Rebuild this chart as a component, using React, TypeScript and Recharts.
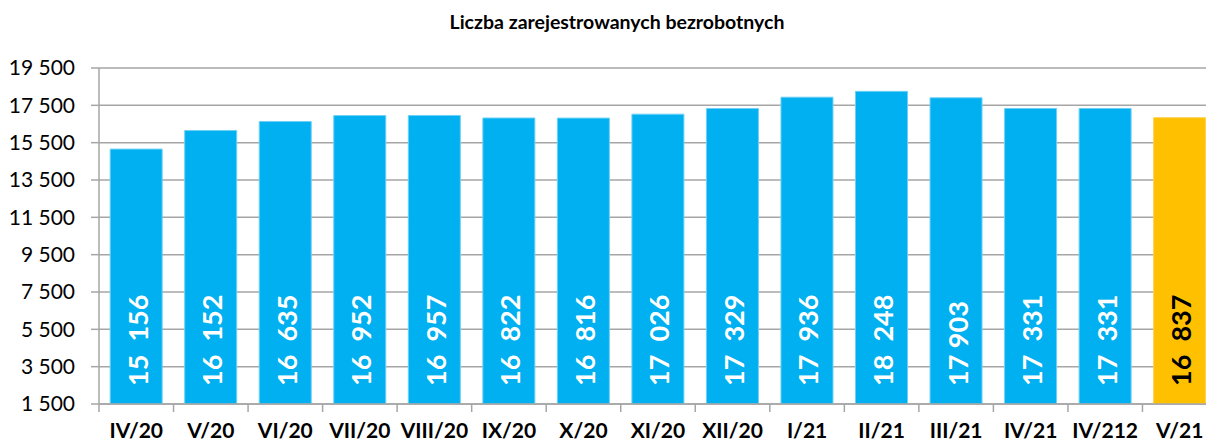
import React from 'react';
import { BarChart, Bar, XAxis, YAxis, CartesianGrid, Cell, LabelList } from 'recharts';

const months = ['IV/20', 'V/20', 'VI/20', 'VII/20', 'VIII/20', 'IX/20', 'X/20', 'XI/20', 'XII/20', 'I/21', 'II/21', 'III/21', 'IV/21', 'IV/212', 'V/21'];
const unemployed = [15156, 16152, 16635, 16952, 16957, 16822, 16816, 17026, 17329, 17936, 18248, 17903, 17331, 17331, 16837];
const valueLabels = ['15  156', '16  152', '16  635', '16  952', '16  957', '16  822', '16  816', '17  026', '17  329', '17  936', '18  248', '17 903', '17  331', '17  331', '16  837'];
const yTicks = [1500, 3500, 5500, 7500, 9500, 11500, 13500, 15500, 17500, 19500];

const data = months.map((m, i) => ({ month: m, value: unemployed[i], label: valueLabels[i] }));

const FONT = 'Lato, "Open Sans", sans-serif';
const CHART_W = 1218;
const PLOT_LEFT = 99;
const PLOT_RIGHT = 1217;
const BAND = (PLOT_RIGHT - PLOT_LEFT) / months.length;
const GRID = '#a6a6a6';

const formatThousands = (v: number) => {
  const s = String(v);
  return s.length > 3 ? `${s.slice(0, -3)} ${s.slice(-3)}` : s;
};

const MonthTick = (props: any) => {
  const { x, y, payload, index } = props;
  return (
    <g>
      <line x1={x - BAND / 2} x2={x - BAND / 2} y1={y - 8} y2={y} stroke={GRID} strokeWidth={1.5} />
      {index === months.length - 1 && (
        <line x1={x + BAND / 2} x2={x + BAND / 2} y1={y - 8} y2={y} stroke={GRID} strokeWidth={1.5} />
      )}
      <text x={x} y={438} textAnchor="middle" fontFamily={FONT} fontWeight={700} fontSize={21} fill="#000">
        {payload.value}
      </text>
    </g>
  );
};

const BarValue = (props: any) => {
  const { x, y, width, height, index } = props;
  const cx = x + width / 2 + 1;
  const cy = y + height - 18;
  const last = index === months.length - 1;
  return (
    <text
      x={cx}
      y={cy}
      transform={`rotate(-90, ${cx}, ${cy})`}
      textAnchor="start"
      dominantBaseline="central"
      fontFamily={FONT}
      fontWeight={700}
      fontSize={27}
      fill={last ? '#000' : '#fff'}
      style={{ whiteSpace: 'pre' }}
    >
      {valueLabels[index]}
    </text>
  );
};

export default function App() {
  return (
    <div style={{ position: 'absolute', left: 0, top: 0, width: 1206, height: 443, overflow: 'hidden', background: '#fff' }}>
      <div
        style={{
          position: 'absolute',
          top: 10,
          left: 0,
          width: 1234,
          textAlign: 'center',
          fontFamily: FONT,
          fontWeight: 700,
          fontSize: 19.5,
          color: '#000',
        }}
      >
        Liczba zarejestrowanych bezrobotnych
      </div>
      <BarChart
        width={CHART_W}
        height={443}
        data={data}
        margin={{ top: 68, right: CHART_W - PLOT_RIGHT, left: 0, bottom: 0 }}
        barCategoryGap="15%"
      >
        <CartesianGrid vertical={false} stroke={GRID} strokeWidth={1.5} />
        <XAxis
          dataKey="month"
          height={39}
          tickLine={false}
          axisLine={{ stroke: GRID, strokeWidth: 1.5 }}
          tick={<MonthTick />}
          interval={0}
        />
        <YAxis
          width={PLOT_LEFT}
          domain={[1500, 19500]}
          ticks={yTicks}
          tickFormatter={formatThousands}
          tickSize={8}
          tickMargin={16}
          tickLine={{ stroke: GRID, strokeWidth: 1.5 }}
          axisLine={{ stroke: GRID, strokeWidth: 1.5 }}
          tick={{ fontFamily: FONT, fontSize: 21, fill: '#000' }}
          allowDataOverflow
        />
        <Bar dataKey="value" isAnimationActive={false} stroke="#6fd0f5" strokeWidth={1}>
          {data.map((d, i) => (
            <Cell key={d.month} fill={i === months.length - 1 ? '#ffc000' : '#00b0f0'} stroke={i === months.length - 1 ? '#ffd24d' : '#6fd0f5'} />
          ))}
          <LabelList dataKey="label" content={<BarValue />} />
        </Bar>
      </BarChart>
    </div>
  );
}
